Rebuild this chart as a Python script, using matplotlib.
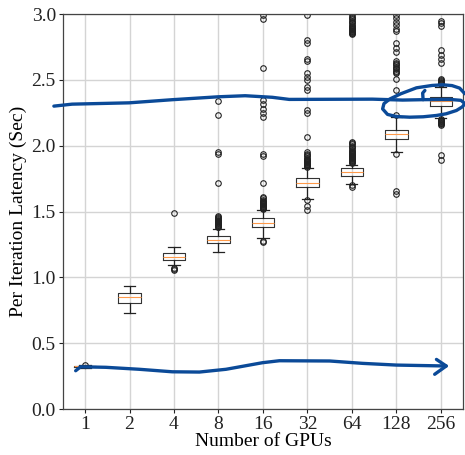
import matplotlib
matplotlib.use("Agg")
import matplotlib.pyplot as plt

plt.rcParams['font.family'] = ['Liberation Serif', 'DejaVu Serif']

gpus = ["1", "2", "4", "8", "16", "32", "64", "128", "256"]
medians = [0.325, 0.853, 1.157, 1.285, 1.415, 1.720, 1.797, 2.090, 2.340]
q1s = [0.321, 0.803, 1.130, 1.260, 1.380, 1.690, 1.772, 2.052, 2.303]
q3s = [0.329, 0.883, 1.183, 1.313, 1.448, 1.757, 1.828, 2.122, 2.370]
whisk_lo = [0.315, 0.727, 1.094, 1.195, 1.300, 1.595, 1.710, 1.950, 2.210]
whisk_hi = [0.332, 0.934, 1.233, 1.370, 1.510, 1.830, 1.850, 2.215, 2.450]
fliers = [
    [0.336],
    [],
    [1.070, 1.060, 1.055, 1.486],
    [1.38, 1.385, 1.39, 1.395, 1.40, 1.405, 1.41, 1.415, 1.42, 1.425, 1.43,
     1.435, 1.44, 1.45, 1.46, 1.47, 1.72, 1.94, 1.95, 2.23, 2.34],
    [1.28, 1.27, 1.52, 1.525, 1.53, 1.535, 1.54, 1.545, 1.55, 1.555, 1.56,
     1.565, 1.57, 1.575, 1.58, 1.59, 1.60, 1.61, 1.72, 1.92, 1.94,
     2.22, 2.25, 2.28, 2.32, 2.35, 2.59, 2.96, 2.99],
    [1.51, 1.54, 1.585, 1.84, 1.845, 1.85, 1.855, 1.86, 1.865, 1.87, 1.875,
     1.88, 1.885, 1.89, 1.895, 1.90, 1.91, 1.92, 1.93, 1.94, 1.95, 2.07,
     2.25, 2.27, 2.42, 2.45, 2.50, 2.52, 2.55, 2.64, 2.66, 2.78, 2.80, 2.99],
    [1.69, 1.70, 1.87, 1.875, 1.88, 1.885, 1.89, 1.895, 1.90, 1.905, 1.91,
     1.915, 1.92, 1.925, 1.93, 1.935, 1.94, 1.945, 1.95, 1.955, 1.96, 1.97,
     1.98, 1.99, 2.00, 2.01, 2.02, 2.03,
     2.85, 2.855, 2.86, 2.865, 2.87, 2.875, 2.88, 2.885, 2.89, 2.895, 2.90,
     2.91, 2.92, 2.93, 2.94, 2.95, 2.96, 2.97, 2.98, 2.99],
    [1.63, 1.66, 1.94, 2.23, 2.42, 2.51, 2.55, 2.56, 2.57, 2.58, 2.59, 2.60,
     2.61, 2.62, 2.63, 2.64, 2.71, 2.74, 2.78, 2.87, 2.89, 2.92, 2.94, 2.97,
     2.99],
    [1.89, 1.93, 2.16, 2.165, 2.17, 2.175, 2.18, 2.185, 2.19, 2.195, 2.20,
     2.47, 2.475, 2.48, 2.485, 2.49, 2.50, 2.51, 2.63, 2.66, 2.69, 2.73,
     2.91, 2.93, 2.95],
]

# hand-drawn blue annotation strokes (data coordinates: category position, seconds)
upper_x = [0.30, 0.71, 1.99, 2.97, 4.00, 4.60, 5.21, 5.59, 7.46, 8.14, 8.60, 9.20]
upper_y = [2.301, 2.316, 2.326, 2.350, 2.372, 2.380, 2.368, 2.352, 2.354, 2.347, 2.350, 2.352]
hook_x = [8.60, 8.59, 8.64]
hook_y = [2.350, 2.400, 2.420]
loop_x = [9.20, 9.45, 9.54, 9.48, 9.35, 9.12, 8.90, 8.60, 8.30, 8.00, 7.80,
          7.69, 7.72, 7.85, 8.10, 8.45, 8.80, 9.04, 9.25, 9.42, 9.54]
loop_y = [2.352, 2.345, 2.320, 2.295, 2.268, 2.243, 2.230, 2.220, 2.217, 2.222, 2.238,
          2.280, 2.320, 2.355, 2.395, 2.440, 2.458, 2.463, 2.457, 2.438, 2.395]
lower_x = [0.79, 0.90, 1.47, 2.22, 2.96, 3.57, 4.17, 4.99, 5.37, 6.50, 7.24, 8.00, 9.12]
lower_y = [0.291, 0.321, 0.317, 0.302, 0.283, 0.281, 0.302, 0.352, 0.367, 0.365, 0.347, 0.334, 0.327]
arrow_x = [8.90, 9.12, 8.86]
arrow_y = [0.377, 0.327, 0.264]

stats = []
for i, lab in enumerate(gpus):
    stats.append(dict(label=lab, med=medians[i], q1=q1s[i], q3=q3s[i],
                      whislo=whisk_lo[i], whishi=whisk_hi[i], fliers=fliers[i]))

fig = plt.figure(figsize=(4.65, 4.55), dpi=100)
ax = fig.add_axes([0.135, 0.101, 0.861, 0.868])

ax.bxp(stats, widths=0.5,
       boxprops=dict(color='#333333', linewidth=0.8),
       whiskerprops=dict(color='#222222', linewidth=0.9),
       capprops=dict(color='#222222', linewidth=0.9),
       medianprops=dict(color='#ff9a4a', linewidth=0.8),
       flierprops=dict(marker='o', markerfacecolor='none', markeredgecolor='#222222',
                       markersize=4, markeredgewidth=0.8))

ax.set_xlim(0.5, 9.5)
ax.set_ylim(0, 3.0)
ax.set_yticks([0.0, 0.5, 1.0, 1.5, 2.0, 2.5, 3.0])
ax.grid(True, color='#d4d4d4', linewidth=1.0)
ax.set_axisbelow(True)
for s in ax.spines.values():
    s.set_color('#444444')
    s.set_linewidth(0.9)
ax.tick_params(labelsize=14, colors='#222222', length=3, pad=2)
ax.set_xlabel("Number of GPUs", fontsize=14, labelpad=0)
ax.set_ylabel("Per Iteration Latency (Sec)", fontsize=14, labelpad=3)

blue = '#0b4a98'
kw = dict(color=blue, linewidth=2.4, solid_capstyle='round', solid_joinstyle='round',
          clip_on=False, zorder=10)
ax.plot(upper_x, upper_y, **kw)
ax.plot(hook_x, hook_y, **kw)
ax.plot(loop_x, loop_y, **kw)
ax.plot(lower_x, lower_y, **kw)
ax.plot(arrow_x, arrow_y, **kw)

fig.savefig("out.png", dpi=100)
